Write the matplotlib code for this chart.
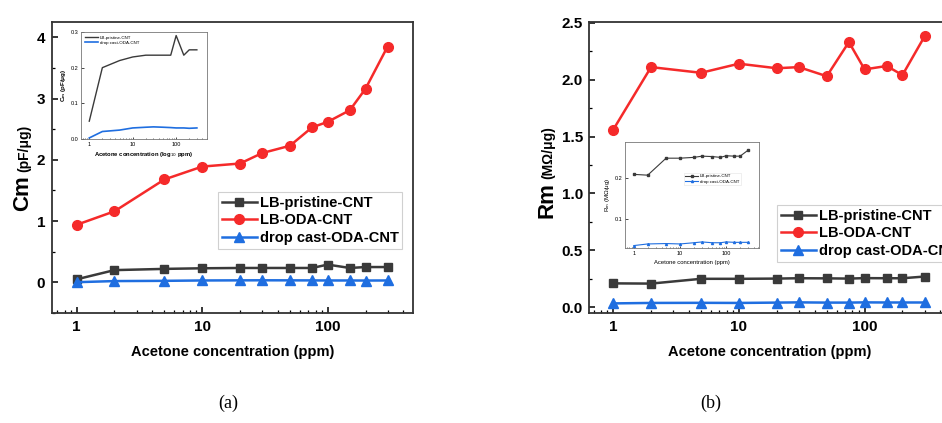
import matplotlib
matplotlib.use("Agg")
import matplotlib.pyplot as plt
from matplotlib.ticker import FixedLocator, NullFormatter, LogLocator, MultipleLocator

plt.rcParams['font.family'] = ['Liberation Sans', 'DejaVu Sans']

# ---------------- data ----------------
conc = [1, 2, 5, 10, 20, 30, 50, 75, 100, 150, 200, 300]

cm_pristine = [0.05, 0.20, 0.22, 0.23, 0.235, 0.235, 0.235, 0.235, 0.29, 0.235, 0.25, 0.25]
cm_oda = [0.94, 1.16, 1.68, 1.89, 1.94, 2.11, 2.23, 2.53, 2.62, 2.81, 3.16, 3.85]
cm_drop = [0.003, 0.021, 0.025, 0.031, 0.033, 0.034, 0.033, 0.032, 0.031, 0.031, 0.030, 0.031]

rm_pristine = [0.21, 0.208, 0.25, 0.25, 0.252, 0.255, 0.254, 0.252, 0.256, 0.255, 0.255, 0.27]
rm_oda = [1.56, 2.11, 2.06, 2.14, 2.10, 2.11, 2.03, 2.33, 2.09, 2.12, 2.04, 2.38]
rm_drop = [0.034, 0.038, 0.039, 0.038, 0.041, 0.043, 0.041, 0.041, 0.043, 0.042, 0.042, 0.042]

series_names = ["LB-pristine-CNT", "LB-ODA-CNT", "drop cast-ODA-CNT"]
x_ticks = [1, 10, 100]
x_ticklabels = ["1", "10", "100"]
xlabel = "Acetone concentration (ppm)"

C_BLACK = "#3a3a3a"
C_RED = "#f52a2a"
C_BLUE = "#1f6ee0"

W, H = 942, 423
fig = plt.figure(figsize=(W / 100, H / 100), dpi=100)


def fr(x0, y0, x1, y1):
    return [x0 / W, 1 - y1 / H, (x1 - x0) / W, (y1 - y0) / H]


def style_main(ax, ylim, ymajor, yminor, yfmt):
    ax.set_xscale('log')
    ax.set_xlim(0.636, 478)
    ax.set_ylim(*ylim)
    ax.xaxis.set_major_locator(FixedLocator(x_ticks))
    ax.set_xticklabels(x_ticklabels)
    ax.xaxis.set_minor_locator(LogLocator(base=10, subs=range(2, 10), numticks=20))
    ax.xaxis.set_minor_formatter(NullFormatter())
    ax.yaxis.set_major_locator(MultipleLocator(ymajor))
    ax.yaxis.set_minor_locator(MultipleLocator(yminor))
    ax.yaxis.set_major_formatter(plt.FuncFormatter(lambda v, p: yfmt.format(v)))
    ax.tick_params(which='major', direction='in', length=4, width=1.1,
                   labelsize=11, pad=5)
    ax.tick_params(which='minor', direction='in', length=2.5, width=0.9)
    for lab in ax.get_xticklabels() + ax.get_yticklabels():
        lab.set_fontweight('bold')
    for s in ax.spines.values():
        s.set_linewidth(1.3)
        s.set_color("#333333")
    ax.set_xlabel(xlabel, fontsize=10.5, fontweight='bold', labelpad=8)


def plot_main(ax, p, o, d):
    ax.plot(conc, p, '-s', color=C_BLACK, lw=1.8, ms=6, label=series_names[0], zorder=3)
    ax.plot(conc, o, '-o', color=C_RED, lw=1.8, ms=7, label=series_names[1], zorder=3)
    ax.plot(conc, d, '-^', color=C_BLUE, lw=1.8, ms=6.5, label=series_names[2], zorder=4)


def main_legend(ax, x0, y0):
    leg = ax.legend(loc='upper left', bbox_to_anchor=(x0 / W, 1 - y0 / H),
                    bbox_transform=fig.transFigure,
                    prop={'weight': 'bold', 'size': 10.5},
                    handlelength=2.4, handletextpad=0.2, labelspacing=0.25,
                    borderpad=0.25, borderaxespad=0, fancybox=False,
                    framealpha=1, edgecolor="#d0d0d0")
    leg.get_frame().set_linewidth(0.8)


def style_inset(ax, ylim, yticks, yticklabels):
    ax.set_xscale('log')
    ax.set_xlim(0.645, 513)
    ax.set_ylim(*ylim)
    ax.xaxis.set_major_locator(FixedLocator(x_ticks))
    ax.set_xticklabels(x_ticklabels)
    ax.xaxis.set_minor_locator(LogLocator(base=10, subs=range(2, 10), numticks=20))
    ax.xaxis.set_minor_formatter(NullFormatter())
    ax.yaxis.set_major_locator(FixedLocator(yticks))
    ax.set_yticklabels(yticklabels)
    ax.tick_params(which='major', direction='in', length=1.8, width=0.5, labelsize=4, pad=2)
    ax.tick_params(which='minor', direction='in', length=1.0, width=0.4)
    for s in ax.spines.values():
        s.set_linewidth(0.6)
        s.set_color("#777777")


# ---------------- panel (a) ----------------
axa = fig.add_axes(fr(52, 22, 413, 313))
plot_main(axa, cm_pristine, cm_oda, cm_drop)
style_main(axa, (-0.5, 4.25), 1, 0.5, "{:.0f}")
main_legend(axa, 218, 192)

insa = fig.add_axes(fr(81, 32, 207, 139))
insa.plot(conc, cm_pristine, '-', color=C_BLACK, lw=1.0, label=series_names[0])
insa.plot(conc, cm_drop, '-', color=C_BLUE, lw=1.2, label=series_names[2])
style_inset(insa, (0, 0.3), [0.0, 0.1, 0.2, 0.3], ["0.0", "0.1", "0.2", "0.3"])
insa.set_xlabel("Acetone concentration (log$_{10}$ ppm)", fontsize=4.2, fontweight='bold', labelpad=2)
insa.set_ylabel("C$_{\\mathregular{m}}$ (pF/μg)", fontsize=4.5, fontweight='bold', labelpad=2)
insa.legend(loc='upper left', fontsize=3.2, frameon=False, handlelength=3,
            handletextpad=0.4, labelspacing=0.2, borderaxespad=0.4)

# ---------------- panel (b) ----------------
axb = fig.add_axes(fr(588.5, 21.7, 950, 313.3))
plot_main(axb, rm_pristine, rm_oda, rm_drop)
style_main(axb, (-0.053, 2.509), 0.5, 0.25, "{:.1f}")
axb.tick_params(which='major', axis='y', pad=4)
main_legend(axb, 777, 205)

insb = fig.add_axes(fr(625, 142, 759, 248))
insb.plot(conc, rm_pristine, '-s', color=C_BLACK, lw=0.8, ms=1.5, label=series_names[0])
insb.plot(conc, rm_drop, '-^', color=C_BLUE, lw=0.8, ms=1.5, label=series_names[2])
style_inset(insb, (0.028, 0.29), [0.1, 0.2], ["0.1", "0.2"])
insb.set_xlabel(xlabel, fontsize=4.2, labelpad=3)
insb.set_ylabel("R$_{\\mathregular{m}}$ (MΩ/μg)", fontsize=4.5, labelpad=2)
lb = insb.legend(loc='upper left', bbox_to_anchor=(0.42, 0.73), fontsize=3.2,
                 fancybox=False, edgecolor="#dddddd", handlelength=3,
                 handletextpad=0.4, labelspacing=0.3, borderpad=0.3)
lb.get_frame().set_linewidth(0.4)

# ---------------- y labels with mixed sizes ----------------
fig.canvas.draw()


def ylabel_pair(big, small, xbase, ystart):
    t1 = fig.text(xbase / W, 1 - ystart / H, big, rotation=90, rotation_mode='anchor',
                  ha='left', va='baseline', fontsize=16, fontweight='bold')
    fig.canvas.draw()
    bb = t1.get_window_extent()
    ytop = bb.y1 + 3
    fig.text(xbase / W, ytop / fig.bbox.height, small, rotation=90, rotation_mode='anchor',
             ha='left', va='baseline', fontsize=10, fontweight='bold')


ylabel_pair("Cm", "(pF/μg)", 28, 211)
ylabel_pair("Rm", "(MΩ/μg)", 552, 218)

# ---------------- panel letters ----------------
fig.text(228 / W, 1 - 403 / H, "(a)", ha='center', va='center', fontsize=13,
         family=['Liberation Serif', 'DejaVu Serif'])
fig.text(711 / W, 1 - 403 / H, "(b)", ha='center', va='center', fontsize=13,
         family=['Liberation Serif', 'DejaVu Serif'])

fig.savefig("out.png", dpi=100)
